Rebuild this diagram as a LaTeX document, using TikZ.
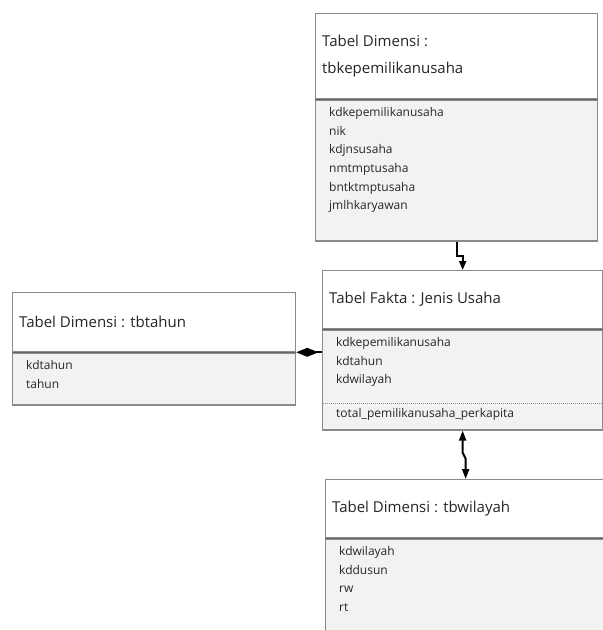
\documentclass[tikz,border=0pt]{standalone}
\usepackage{fontspec}
\setmainfont{Open Sans}
\usetikzlibrary{arrows.meta,positioning,calc}
\definecolor{bodygray}{HTML}{F2F2F2}
\definecolor{framegray}{HTML}{8A8A8A}
\tikzset{
  tblhead/.style={draw=framegray, line width=1.3pt, fill=white, anchor=north west, inner sep=0pt},
  tblbody/.style={draw=framegray, line width=1.3pt, fill=bodygray, anchor=north west, inner sep=0pt},
  tbltitle/.style={align=left, font=\fontsize{15}{27}\selectfont, text=black!85, inner sep=0pt},
  tblattr/.style={align=left, font=\fontsize{12}{18.6}\selectfont, text=black!85, inner sep=0pt},
  sepline/.style={draw=black!60, line width=1.3pt},
  dotline/.style={draw=black!45, line width=1pt, densely dotted},
  link/.style={draw=black, line width=2pt},
}

\begin{document}
\begin{tikzpicture}[x=1pt, y=-1pt]
    \useasboundingbox (0,0) rectangle (603,630);
    % tabel dimensi kepemilikan usaha
    \node[tblhead, minimum width=282pt, minimum height=85pt] (kep-hdr) at (315,13) {};
    \node[tblbody, minimum width=282pt, minimum height=141pt] (kep-body) at (kep-hdr.south west) {};
    \draw[sepline] (kep-hdr.south west) -- (kep-hdr.south east);
    \node[tbltitle, right=7pt of kep-hdr.west] (kep-title) {Tabel Dimensi :\\tbkepemilikanusaha};
    \node[tblattr, below right=8pt and 14pt of kep-body.north west] (kep-attr)
        {kdkepemilikanusaha\\nik\\kdjnsusaha\\nmtmptusaha\\bntktmptusaha\\jmlhkaryawan};

    % tabel fakta
    \node[tblhead, minimum width=280pt, minimum height=58pt] (fakta-hdr) at (322,270) {};
    \node[tblbody, minimum width=280pt, minimum height=100pt] (fakta-body) at (fakta-hdr.south west) {};
    \draw[sepline] (fakta-hdr.south west) -- (fakta-hdr.south east);
    \node[tbltitle, right=7pt of fakta-hdr.west] (fakta-title) {Tabel Fakta : Jenis Usaha};
    \node[tblattr, below right=8pt and 14pt of fakta-body.north west] (fakta-attr)
        {kdkepemilikanusaha\\kdtahun\\kdwilayah};
    \coordinate (fakta-div) at ($(fakta-body.north west)+(1,74)$);
    \draw[dotline] (fakta-div) -- (fakta-div -| fakta-body.east);
    \node[tblattr, below right=5pt and 13pt of fakta-div] (fakta-measure) {total\_pemilikanusaha\_perkapita};

    % tabel dimensi tahun
    \node[tblhead, minimum width=283pt, minimum height=59pt] (tahun-hdr) at (12,292) {};
    \node[tblbody, minimum width=283pt, minimum height=52pt] (tahun-body) at (tahun-hdr.south west) {};
    \draw[sepline] (tahun-hdr.south west) -- (tahun-hdr.south east);
    \node[tbltitle, right=7pt of tahun-hdr.west] (tahun-title) {Tabel Dimensi : tbtahun};
    \node[tblattr, below right=8pt and 14pt of tahun-body.north west] (tahun-attr)
        {kdtahun\\tahun};

    % tabel dimensi wilayah
    \node[tblhead, minimum width=280pt, minimum height=58pt] (wil-hdr) at (325,479) {};
    \node[tblbody, minimum width=280pt, minimum height=120pt] (wil-body) at (wil-hdr.south west) {};
    \draw[sepline] (wil-hdr.south west) -- (wil-hdr.south east);
    \node[tbltitle, right=7pt of wil-hdr.west] (wil-title) {Tabel Dimensi : tbwilayah};
    \node[tblattr, below right=8pt and 14pt of wil-body.north west] (wil-attr)
        {kdwilayah\\kddusun\\rw\\rt};

    % relasi
    \draw[link, -{Triangle[length=9pt, width=7pt]}] (kep-body.south) -- ++(0,14) -| (fakta-hdr.north);
    \draw[link, {Triangle[length=10pt, width=7pt]}-{Triangle[length=10pt, width=7pt]}]
        (fakta-body.south) -- ++(0,22) -- ++(3,6) -- (wil-hdr.north);
    \draw[link, {Diamond[length=22pt, width=9pt]}-] (tahun-hdr.south east) -- (tahun-hdr.south east -| fakta-body.west);
\end{tikzpicture}
\end{document}
